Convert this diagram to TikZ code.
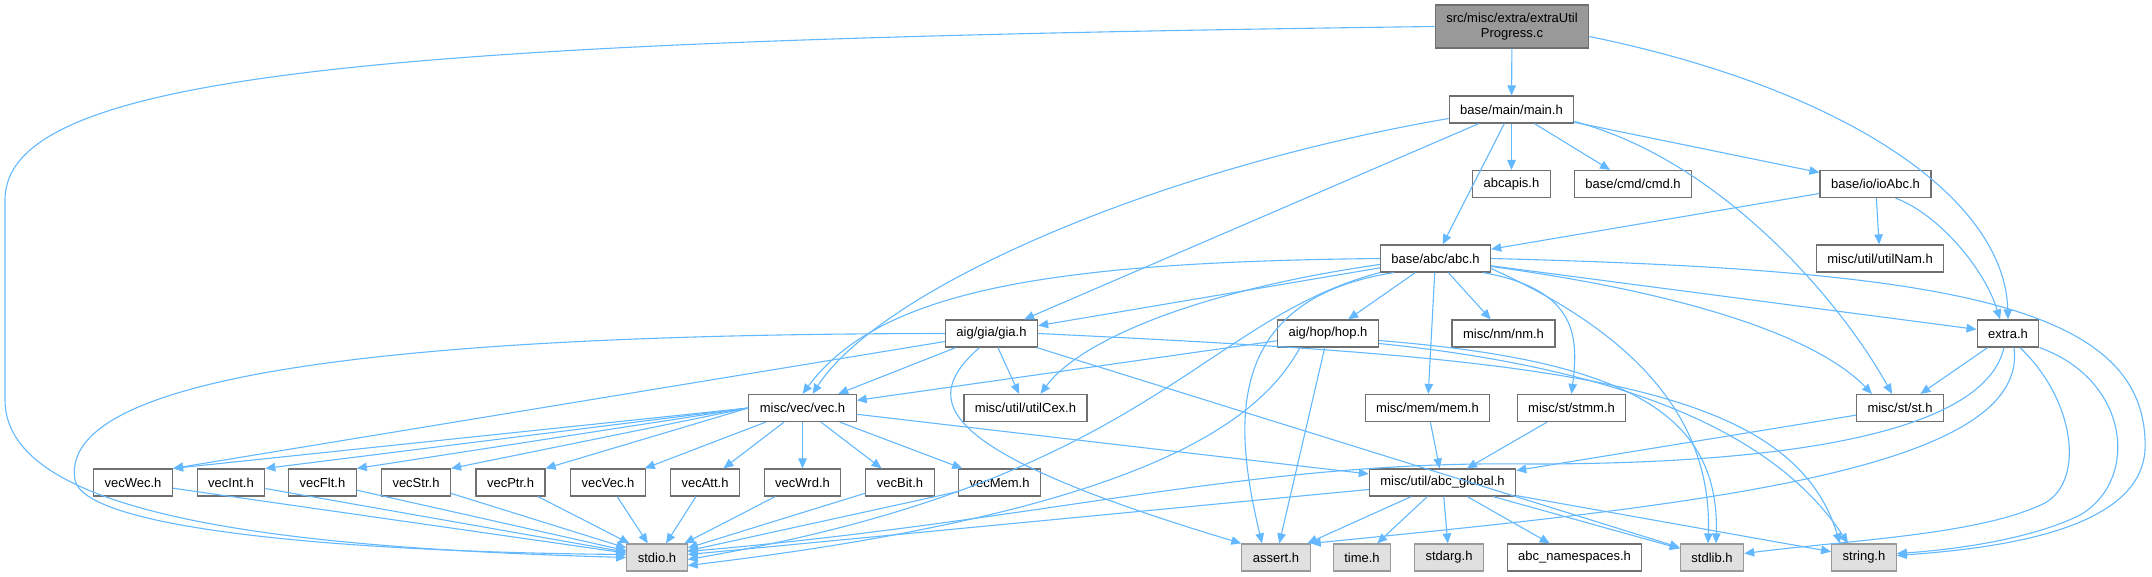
\documentclass[tikz,border=0pt]{standalone}
\usepackage{fontspec}
\setmainfont{Liberation Sans}
\usepackage{xcolor}
\usepackage{tikz}
\usetikzlibrary{arrows.meta,positioning}
\definecolor{edgeblue}{HTML}{63B8FF}
\definecolor{boxline}{HTML}{707070}
\definecolor{sysline}{HTML}{999999}
\definecolor{sysfill}{HTML}{E0E0E0}
\definecolor{rootfill}{HTML}{999999}

\begin{document}
\begin{tikzpicture}[x=1pt,y=-1pt]
  \tikzset{
    file/.style={draw=boxline, fill=white, line width=1.2pt, minimum height=27pt, inner xsep=11pt, inner ysep=0pt, font=\fontsize{13}{15}\selectfont},
    sysfile/.style={file, draw=sysline, fill=sysfill},
    rootfile/.style={file, fill=rootfill, minimum height=43pt, align=center},
    inc/.style={-{Triangle[length=10pt,width=8.5pt]}, edgeblue, line width=1.1pt}
  }
  \useasboundingbox (0,0) rectangle (2152,576);

  % Row positions
  \def\yA{26.5}
  \def\yB{109.5}
  \def\yC{184}
  \def\yD{258.5}
  \def\yE{333.5}
  \def\yF{408}
  \def\yG{482.5}
  \def\yH{557.5}

  % Files
  \node[rootfile] (root) at (1512,\yA) {src/misc/extra/extraUtil\\Progress.c};
  \node[file] (main) at (1511.5,\yB) {base/main/main.h};
  \node[file] (abcapis) at (1511.5,\yC) {abcapis.h};
  \node[file] (cmd) at (1633,\yC) {base/cmd/cmd.h};
  \node[file] (ioabc) at (1875.5,\yC) {base/io/ioAbc.h};
  \node[file] (abc) at (1435.5,\yD) {base/abc/abc.h};
  \node[file] (utilnam) at (1880,\yD) {misc/util/utilNam.h};
  \node[file] (gia) at (991.5,\yE) {aig/gia/gia.h};
  \node[file] (hop) at (1328,\yE) {aig/hop/hop.h};
  \node[file] (nm) at (1503.5,\yE) {misc/nm/nm.h};
  \node[file] (extra) at (2008,\yE) {extra.h};
  \node[file] (vec) at (802.5,\yF) {misc/vec/vec.h};
  \node[file] (utilcex) at (1025.5,\yF) {misc/util/utilCex.h};
  \node[file] (mem) at (1427.5,\yF) {misc/mem/mem.h};
  \node[file] (stmm) at (1571.5,\yF) {misc/st/stmm.h};
  \node[file] (st) at (1900,\yF) {misc/st/st.h};
  \node[file] (vecwec) at (133,\yG) {vecWec.h};
  \node[file] (vecint) at (231,\yG) {vecInt.h};
  \node[file] (vecflt) at (322.5,\yG) {vecFlt.h};
  \node[file] (vecstr) at (416,\yG) {vecStr.h};
  \node[file] (vecptr) at (510.5,\yG) {vecPtr.h};
  \node[file] (vecvec) at (608,\yG) {vecVec.h};
  \node[file] (vecatt) at (705,\yG) {vecAtt.h};
  \node[file] (vecwrd) at (802.5,\yG) {vecWrd.h};
  \node[file] (vecbit) at (900,\yG) {vecBit.h};
  \node[file] (vecmem) at (999.5,\yG) {vecMem.h};
  \node[file] (global) at (1442.5,\yG) {misc/util/abc\_global.h};
  \node[sysfile] (stdio) at (657,\yH) {stdio.h};
  \node[sysfile] (assert) at (1276,\yH) {assert.h};
  \node[sysfile] (time) at (1362,\yH) {time.h};
  \node[sysfile] (stdarg) at (1449,\yH) {stdarg.h};
  \node[file] (namespaces) at (1574.5,\yH) {abc\_namespaces.h};
  \node[sysfile] (stdlib) at (1712,\yH) {stdlib.h};
  \node[sysfile] (string) at (1864,\yH) {string.h};

  % extraUtilProgress.c
  \draw[inc] (root) -- (main);
  \draw[inc] (root.west) .. controls (400,40) and (5,70) .. (5,200) -- (5,400) .. controls (5,520) and (300,548) .. (stdio.west);
  \draw[inc] ([yshift=-10pt]root.east) .. controls (1850,90) and (2005,200) .. (extra.north);

  % main.h
  \draw[inc] (main) -- (abcapis);
  \draw[inc] (main) -- (cmd);
  \draw[inc] (main) -- (ioabc);
  \draw[inc] (main) -- (abc);
  \draw[inc] (main) -- (gia);
  \draw[inc] ([yshift=-9pt]main.west) .. controls (1150,170) and (880,290) .. ([xshift=10pt]vec.north);
  \draw[inc] ([yshift=-12pt]main.east) .. controls (1720,160) and (1840,300) .. ([xshift=-8pt]st.north);

  % ioAbc.h
  \draw[inc] (ioabc) -- (abc);
  \draw[inc] (ioabc) -- (utilnam);
  \draw[inc] ([xshift=20pt]ioabc.south) .. controls (1940,215) and (1985,270) .. ([xshift=-8pt]extra.north);

  % abc.h
  \draw[inc] (abc) -- (gia);
  \draw[inc] (abc) -- (hop);
  \draw[inc] (abc) -- (nm);
  \draw[inc] (abc) -- (mem);
  \draw[inc] (abc) -- (extra);
  \draw[inc] (abc.west) .. controls (1050,262) and (880,290) .. (vec.north);
  \draw[inc] ([yshift=-6pt]abc.west) .. controls (1200,290) and (1080,340) .. ([xshift=15pt]utilcex.north);
  \draw[inc] (abc.south west) .. controls (1200,320) and (1150,480) .. ([yshift=-2pt]stdio.east);
  \draw[inc] ([xshift=14pt]abc.south west) .. controls (1220,300) and (1235,430) .. ([xshift=-14pt]assert.north);
  \draw[inc] ([xshift=-8pt]abc.south east) .. controls (1580,290) and (1578,340) .. (stmm.north);
  \draw[inc] ([yshift=4pt]abc.south east) .. controls (1650,340) and (1712,430) .. ([xshift=-4pt]stdlib.north);
  \draw[inc] ([yshift=-8pt]abc.east) .. controls (1700,295) and (1820,340) .. ([xshift=-28pt]st.north);
  \draw[inc] (abc.east) .. controls (1950,270) and (2150,305) .. (2145,450) .. controls (2140,530) and (2000,548) .. ([yshift=2pt]string.east);

  % gia.h
  \draw[inc] (gia) -- (vec);
  \draw[inc] (gia) -- (utilcex);
  \draw[inc] ([yshift=-8pt]gia.west) -- (vecwec.north east);
  \draw[inc] (gia.west) .. controls (300,334) and (60,390) .. (75,480) .. controls (85,530) and (350,552) .. ([yshift=3pt]stdio.west);
  \draw[inc] ([xshift=-12pt]gia.south) .. controls (920,400) and (930,450) .. (assert.north west);
  \draw[inc] (gia) -- (stdlib);
  \draw[inc] (gia.east) .. controls (1550,358) and (1790,380) .. ([xshift=-24pt]string.north);

  % hop.h
  \draw[inc] (hop) -- (vec);
  \draw[inc] (hop) -- (assert);
  \draw[inc] ([xshift=-28pt]hop.south) .. controls (1260,420) and (1150,510) .. ([yshift=-8pt]stdio.east);
  \draw[inc] ([yshift=-7pt]hop.east) .. controls (1620,360) and (1720,410) .. ([xshift=4pt]stdlib.north);
  \draw[inc] ([yshift=-10pt]hop.east) .. controls (1640,370) and (1780,440) .. ([xshift=-16pt]string.north);

  % vec.h
  \draw[inc] (vec.west) -- (vecwec.north east);
  \draw[inc] (vec.west) -- (vecint.north east);
  \draw[inc] (vec.west) -- (vecflt.north east);
  \draw[inc] (vec.west) -- (vecstr.north east);
  \draw[inc] (vec.west) -- (vecptr.north east);
  \draw[inc] (vec) -- (vecvec);
  \draw[inc] (vec) -- (vecatt);
  \draw[inc] (vec) -- (vecwrd);
  \draw[inc] (vec) -- (vecbit);
  \draw[inc] (vec) -- (vecmem);
  \draw[inc] (vec) -- (global);

  % vec*.h
  \draw[inc] (vecwec) -- (stdio);
  \draw[inc] (vecint) -- (stdio);
  \draw[inc] (vecflt) -- (stdio);
  \draw[inc] (vecstr) -- (stdio);
  \draw[inc] (vecptr) -- (stdio);
  \draw[inc] (vecvec) -- (stdio);
  \draw[inc] (vecatt) -- (stdio);
  \draw[inc] (vecwrd) -- (stdio);
  \draw[inc] (vecbit) -- (stdio);
  \draw[inc] (vecmem) -- (stdio);

  % abc_global.h
  \draw[inc] (mem) -- (global);
  \draw[inc] (stmm) -- (global);
  \draw[inc] (st) -- (global);
  \draw[inc] (global) -- (stdio);
  \draw[inc] (global) -- (assert);
  \draw[inc] (global) -- (time);
  \draw[inc] (global) -- (stdarg);
  \draw[inc] (global) -- (namespaces);
  \draw[inc] (global) -- (stdlib);
  \draw[inc] (global) -- (string);

  % extra.h
  \draw[inc] (extra) -- (st);
  \draw[inc] ([xshift=-4pt]extra.south) .. controls (1985,430) and (1800,464) .. (1530,464) .. controls (1250,460) and (1050,520) .. ([yshift=6pt]stdio.east);
  \draw[inc] ([xshift=6pt]extra.south) .. controls (2030,470) and (1700,505) .. (assert.north east);
  \draw[inc] ([xshift=12pt]extra.south) .. controls (2075,400) and (2085,480) .. (2045,503) .. controls (1980,535) and (1850,540) .. ([yshift=4pt]stdlib.east);
  \draw[inc] (extra.south east) .. controls (2130,380) and (2140,480) .. (2080,515) .. controls (2030,540) and (1950,550) .. ([yshift=4pt]string.east);

\end{tikzpicture}
\end{document}
